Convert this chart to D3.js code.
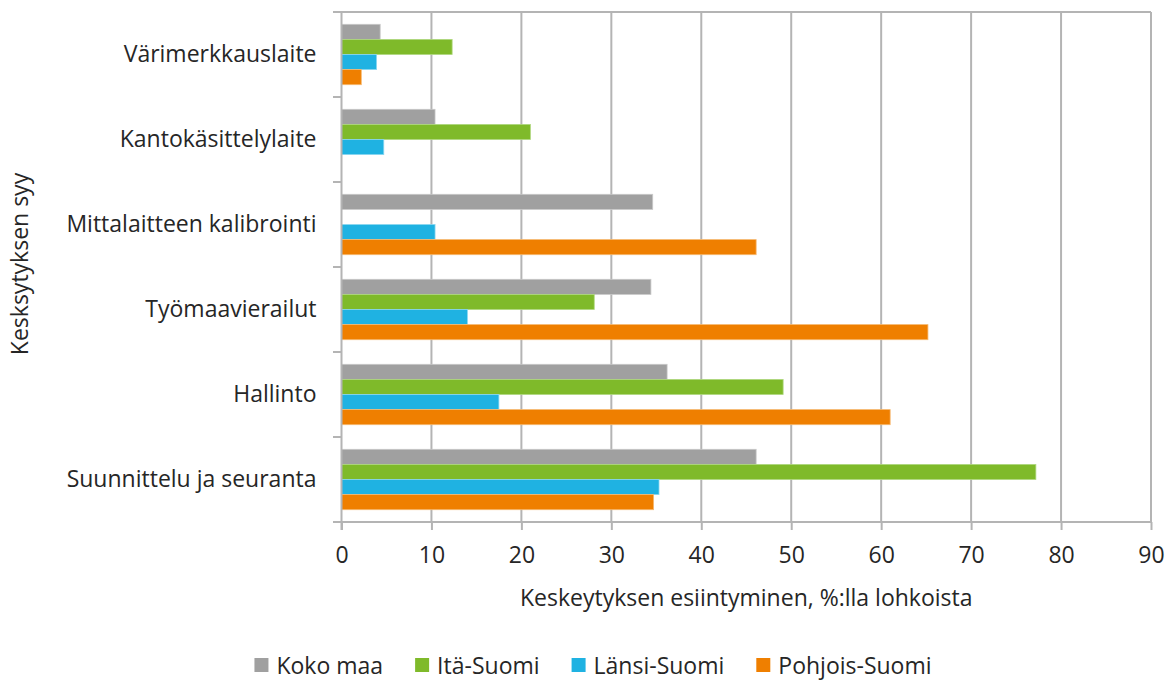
<!DOCTYPE html>
<html>
<head>
<meta charset="utf-8">
<script src="https://cdn.jsdelivr.net/npm/d3@7"></script>
<style>
  body { margin: 0; background: #fff; }
  text { font-family: "Open Sans", sans-serif; fill: #262626; }
</style>
</head>
<body>
<svg width="1172" height="682"></svg>
<script>
var categories = ["Värimerkkauslaite", "Kantokäsittelylaite", "Mittalaitteen kalibrointi",
                  "Työmaavierailut", "Hallinto", "Suunnittelu ja seuranta"];
var seriesNames = ["Koko maa", "Itä-Suomi", "Länsi-Suomi", "Pohjois-Suomi"];
var kokoMaa      = [4.3, 10.4, 34.6, 34.4, 36.2, 46.1];
var itaSuomi     = [12.3, 21.0, 0, 28.1, 49.1, 77.2];
var lansiSuomi   = [3.9, 4.7, 10.4, 14.0, 17.5, 35.3];
var pohjoisSuomi = [2.2, 0, 46.1, 65.2, 61.0, 34.7];
var xTicks = [0, 10, 20, 30, 40, 50, 60, 70, 80, 90];

var seriesValues = [kokoMaa, itaSuomi, lansiSuomi, pohjoisSuomi];
var colors = ["#a0a0a0", "#7fba2a", "#1fb2e2", "#ef7f00"];
var edges  = ["#c8c8c8", "#b0d880", "#8ad6f0", "#f6b870"];
var fontSize = "23px";

var svg = d3.select("svg");

var x = d3.scaleLinear()
    .domain([0, 90])
    .range([341.5, 1151]);

var y = d3.scaleBand()
    .domain(categories)
    .range([12, 522]);

var inner = d3.scaleBand()
    .domain(seriesNames)
    .range([12.3, y.bandwidth() - 12.3]);

var rows = [];
categories.forEach(function(c, i) {
  seriesNames.forEach(function(s, j) {
    rows.push({cat: c, series: s, idx: j, value: seriesValues[j][i]});
  });
});

// vertical gridlines
svg.append("g")
  .selectAll("line")
  .data(xTicks.slice(1))
  .enter().append("line")
    .attr("x1", function(d) { return x(d); })
    .attr("x2", function(d) { return x(d); })
    .attr("y1", 12)
    .attr("y2", 522)
    .attr("stroke", "#b4b4b4")
    .attr("stroke-width", 2);

// top line
svg.append("line")
    .attr("x1", 333).attr("x2", x(90))
    .attr("y1", 12).attr("y2", 12)
    .attr("stroke", "#b4b4b4")
    .attr("stroke-width", 2);

// bars
svg.append("g")
  .selectAll("rect")
  .data(rows.filter(function(d) { return d.value > 0; }))
  .enter().append("rect")
    .attr("x", x(0))
    .attr("y", function(d) { return y(d.cat) + inner(d.series); })
    .attr("width", function(d) { return x(d.value) - x(0); })
    .attr("height", inner.bandwidth())
    .attr("fill", function(d) { return colors[d.idx]; })
    .attr("stroke", function(d) { return edges[d.idx]; })
    .attr("stroke-width", 0.8);

// x axis
var xAxis = svg.append("g")
    .attr("transform", "translate(0,522)")
    .call(d3.axisBottom(x)
      .tickValues(xTicks)
      .tickSize(8)
      .tickSizeOuter(0)
      .tickPadding(17));
xAxis.select(".domain").remove();
xAxis.selectAll(".tick line").attr("stroke", "#b4b4b4").attr("stroke-width", 2);
xAxis.selectAll(".tick text")
    .style("font-family", "'Open Sans', sans-serif")
    .style("font-size", fontSize)
    .attr("fill", "#262626");

svg.append("line")
    .attr("x1", 333).attr("x2", x(90))
    .attr("y1", 522).attr("y2", 522)
    .attr("stroke", "#b4b4b4")
    .attr("stroke-width", 2);

// y axis line and boundary ticks
svg.append("line")
    .attr("x1", x(0)).attr("x2", x(0))
    .attr("y1", 12).attr("y2", 530)
    .attr("stroke", "#b4b4b4")
    .attr("stroke-width", 2);

svg.append("g")
  .selectAll("line")
  .data(categories)
  .enter().append("line")
    .attr("x1", 333).attr("x2", x(0))
    .attr("y1", function(d) { return y(d) + y.bandwidth(); })
    .attr("y2", function(d) { return y(d) + y.bandwidth(); })
    .attr("stroke", "#b4b4b4")
    .attr("stroke-width", 2);

var yAxis = svg.append("g")
    .attr("transform", "translate(" + x(0) + ",0)")
    .call(d3.axisLeft(y).tickSize(0).tickPadding(25));
yAxis.select(".domain").remove();
yAxis.selectAll(".tick text")
    .style("font-family", "'Open Sans', sans-serif")
    .style("font-size", fontSize)
    .attr("fill", "#262626");

// axis titles
svg.append("text")
    .attr("x", (x(0) + x(90)) / 2)
    .attr("y", 606)
    .attr("text-anchor", "middle")
    .style("font-size", fontSize)
    .text("Keskeytyksen esiintyminen, %:lla lohkoista");

svg.append("text")
    .attr("transform", "translate(28,264) rotate(-90)")
    .attr("text-anchor", "middle")
    .style("font-size", fontSize)
    .text("Kesksytyksen syy");

// legend
var legend = svg.append("g");
var item = legend.selectAll("g")
  .data(seriesNames)
  .enter().append("g");
item.append("rect")
    .attr("width", 14).attr("height", 14)
    .attr("y", -8)
    .attr("fill", function(d, i) { return colors[i]; });
item.append("text")
    .attr("x", 22)
    .attr("dy", "0.35em")
    .style("font-size", fontSize)
    .text(function(d) { return d; });

var gap = 32;
var offset = 0;
item.each(function() {
  var w = this.getBBox().width;
  d3.select(this).attr("transform", "translate(" + offset + ",0)");
  offset += w + gap;
});
var total = offset - gap;
legend.attr("transform", "translate(" + (593 - total / 2) + ",666)");
</script>
</body>
</html>
